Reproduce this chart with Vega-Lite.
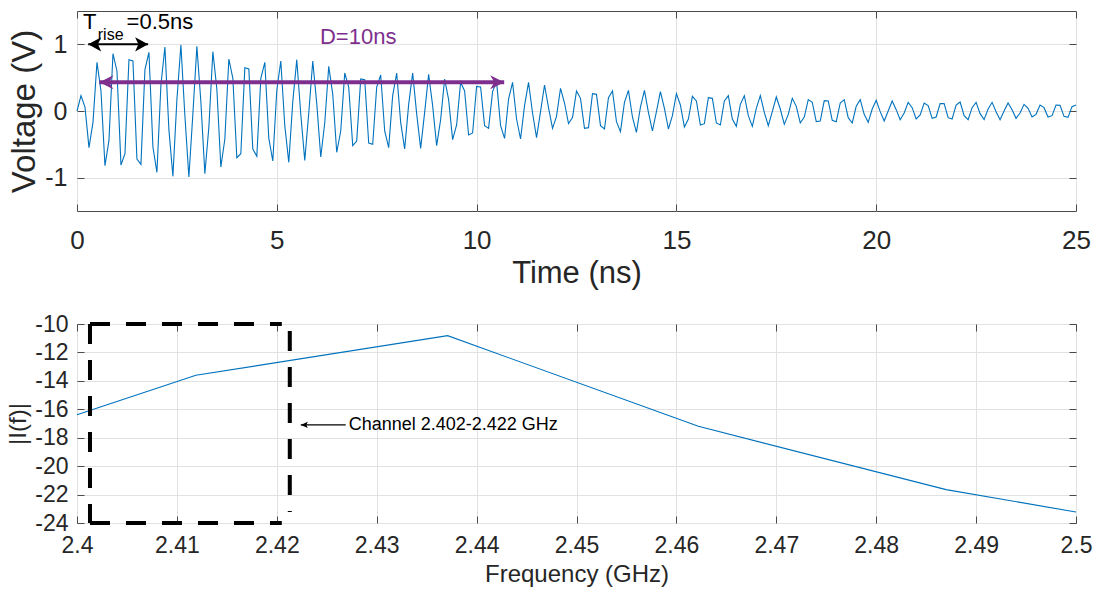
{
  "$schema": "https://vega.github.io/schema/vega-lite/v6.json",
  "padding": {"left": 6, "top": 10, "right": 5, "bottom": 2},
  "bounds": "flush",
  "spacing": 113,
  "config": {
    "font": "Liberation Sans",
    "view": {"stroke": "#4a4a4a", "strokeWidth": 1},
    "axis": {"domain": false, "ticks": true, "tickSize": -7, "tickColor": "#4a4a4a", "labelFlush": false, "grid": true, "gridColor": "#e2e2e2", "gridWidth": 1, "labelColor": "#262626", "titleColor": "#262626", "titleFontWeight": "normal", "labelFont": "Liberation Sans", "titleFont": "Liberation Sans"},
    "text": {"font": "Liberation Sans"}
  },
  "vconcat": [
    {
      "width": 999,
      "height": 200,
      "resolve": {"axis": {"x": "independent", "y": "independent"}},
      "layer": [
        {
          "encoding": {
            "x": {"field": "t", "type": "quantitative", "scale": {"domain": [0, 25], "nice": false, "zero": false}, "axis": {"values": [0, 5, 10, 15, 20, 25], "title": "Time (ns)", "labelFontSize": 26, "titleFontSize": 31, "labelPadding": 23, "titlePadding": 5}},
            "y": {"field": "v", "type": "quantitative", "scale": {"domain": [-1.5, 1.5], "nice": false, "zero": false}, "axis": {"values": [-1, 0, 1], "labelExpr": "replace(datum.label, '−', '-')", "title": "Voltage (V)", "labelFontSize": 25, "titleFontSize": 33, "labelPadding": 17, "titlePadding": 3}}
          },
          "layer": [
            {
              "data": {"values": [
{"t":0.0,"v":0},{"t":0.1,"v":0.23},{"t":0.2,"v":0.06},{"t":0.3,"v":-0.55},{"t":0.4,"v":-0.17},{"t":0.5,"v":0.73},{"t":0.6,"v":0.30},{"t":0.7,"v":-0.82},{"t":0.8,"v":-0.44},{"t":0.9,"v":0.86},
{"t":1.0,"v":0.60},{"t":1.1,"v":-0.81},{"t":1.2,"v":-0.64},{"t":1.3,"v":0.77},{"t":1.4,"v":0.75},{"t":1.5,"v":-0.72},{"t":1.6,"v":-0.80},{"t":1.7,"v":0.62},{"t":1.8,"v":0.88},{"t":1.9,"v":-0.54},
{"t":2.0,"v":-0.92},{"t":2.1,"v":0.39},{"t":2.2,"v":0.96},{"t":2.3,"v":-0.28},{"t":2.4,"v":-0.98},{"t":2.5,"v":0.17},{"t":2.6,"v":0.99},{"t":2.7,"v":-0.07},{"t":2.8,"v":-0.99},{"t":2.9,"v":-0.04},
{"t":3.0,"v":0.97},{"t":3.1,"v":0.14},{"t":3.2,"v":-0.94},{"t":3.3,"v":-0.24},{"t":3.4,"v":0.89},{"t":3.5,"v":0.33},{"t":3.6,"v":-0.84},{"t":3.7,"v":-0.42},{"t":3.8,"v":0.78},{"t":3.9,"v":0.49},
{"t":4.0,"v":-0.70},{"t":4.1,"v":-0.64},{"t":4.2,"v":0.65},{"t":4.3,"v":0.63},{"t":4.4,"v":-0.57},{"t":4.5,"v":-0.68},{"t":4.6,"v":0.49},{"t":4.7,"v":0.73},{"t":4.8,"v":-0.41},{"t":4.9,"v":-0.75},
{"t":5.0,"v":0.31},{"t":5.1,"v":0.75},{"t":5.2,"v":-0.22},{"t":5.3,"v":-0.77},{"t":5.4,"v":0.14},{"t":5.5,"v":0.77},{"t":5.6,"v":-0.05},{"t":5.7,"v":-0.74},{"t":5.8,"v":-0.03},{"t":5.9,"v":0.75},
{"t":6.0,"v":0.11},{"t":6.1,"v":-0.69},{"t":6.2,"v":-0.18},{"t":6.3,"v":0.67},{"t":6.4,"v":0.25},{"t":6.5,"v":-0.62},{"t":6.6,"v":-0.30},{"t":6.7,"v":0.57},{"t":6.8,"v":0.36},{"t":6.9,"v":-0.52},
{"t":7.0,"v":-0.45},{"t":7.1,"v":0.48},{"t":7.2,"v":0.47},{"t":7.3,"v":-0.48},{"t":7.4,"v":-0.50},{"t":7.5,"v":0.36},{"t":7.6,"v":0.54},{"t":7.7,"v":-0.30},{"t":7.8,"v":-0.55},{"t":7.9,"v":0.23},
{"t":8.0,"v":0.57},{"t":8.1,"v":-0.17},{"t":8.2,"v":-0.57},{"t":8.3,"v":0.10},{"t":8.4,"v":0.57},{"t":8.5,"v":-0.04},{"t":8.6,"v":-0.56},{"t":8.7,"v":-0.02},{"t":8.8,"v":0.55},{"t":8.9,"v":0.08},
{"t":9.0,"v":-0.52},{"t":9.1,"v":-0.13},{"t":9.2,"v":0.48},{"t":9.3,"v":0.17},{"t":9.4,"v":-0.43},{"t":9.5,"v":-0.21},{"t":9.6,"v":0.43},{"t":9.7,"v":0.30},{"t":9.8,"v":-0.36},{"t":9.9,"v":-0.33},
{"t":10.0,"v":0.37},{"t":10.1,"v":0.36},{"t":10.2,"v":-0.22},{"t":10.3,"v":-0.26},{"t":10.4,"v":0.29},{"t":10.5,"v":0.44},{"t":10.6,"v":-0.22},{"t":10.7,"v":-0.41},{"t":10.8,"v":0.18},{"t":10.9,"v":0.43},
{"t":11.0,"v":-0.12},{"t":11.1,"v":-0.42},{"t":11.2,"v":0.08},{"t":11.3,"v":0.43},{"t":11.4,"v":-0.03},{"t":11.5,"v":-0.40},{"t":11.6,"v":-0.01},{"t":11.7,"v":0.39},{"t":11.8,"v":0.05},{"t":11.9,"v":-0.26},
{"t":12.0,"v":-0.08},{"t":12.1,"v":0.34},{"t":12.2,"v":0.12},{"t":12.3,"v":-0.19},{"t":12.4,"v":-0.10},{"t":12.5,"v":0.30},{"t":12.6,"v":0.19},{"t":12.7,"v":-0.26},{"t":12.8,"v":-0.25},{"t":12.9,"v":0.26},
{"t":13.0,"v":0.25},{"t":13.1,"v":-0.22},{"t":13.2,"v":-0.27},{"t":13.3,"v":0.20},{"t":13.4,"v":0.30},{"t":13.5,"v":-0.16},{"t":13.6,"v":-0.31},{"t":13.7,"v":0.13},{"t":13.8,"v":0.31},{"t":13.9,"v":-0.09},
{"t":14.0,"v":-0.32},{"t":14.1,"v":0.06},{"t":14.2,"v":0.31},{"t":14.3,"v":-0.02},{"t":14.4,"v":-0.30},{"t":14.5,"v":-0.01},{"t":14.6,"v":0.29},{"t":14.7,"v":0.04},{"t":14.8,"v":-0.27},{"t":14.9,"v":-0.07},
{"t":15.0,"v":0.26},{"t":15.1,"v":0.09},{"t":15.2,"v":-0.24},{"t":15.3,"v":-0.12},{"t":15.4,"v":0.22},{"t":15.5,"v":0.15},{"t":15.6,"v":-0.21},{"t":15.7,"v":-0.19},{"t":15.8,"v":0.20},{"t":15.9,"v":0.19},
{"t":16.0,"v":-0.18},{"t":16.1,"v":-0.21},{"t":16.2,"v":0.15},{"t":16.3,"v":0.23},{"t":16.4,"v":-0.12},{"t":16.5,"v":-0.23},{"t":16.6,"v":0.10},{"t":16.7,"v":0.23},{"t":16.8,"v":-0.07},{"t":16.9,"v":-0.23},
{"t":17.0,"v":0.04},{"t":17.1,"v":0.23},{"t":17.2,"v":-0.02},{"t":17.3,"v":-0.22},{"t":17.4,"v":-0.01},{"t":17.5,"v":0.21},{"t":17.6,"v":0.03},{"t":17.7,"v":-0.20},{"t":17.8,"v":-0.05},{"t":17.9,"v":0.19},
{"t":18.0,"v":0.07},{"t":18.1,"v":-0.18},{"t":18.2,"v":-0.09},{"t":18.3,"v":0.17},{"t":18.4,"v":0.13},{"t":18.5,"v":-0.16},{"t":18.6,"v":-0.15},{"t":18.7,"v":0.155},{"t":18.8,"v":0.15},{"t":18.9,"v":-0.14},
{"t":19.0,"v":-0.16},{"t":19.1,"v":0.12},{"t":19.2,"v":0.17},{"t":19.3,"v":-0.10},{"t":19.4,"v":-0.18},{"t":19.5,"v":0.07},{"t":19.6,"v":0.17},{"t":19.7,"v":-0.05},{"t":19.8,"v":-0.17},{"t":19.9,"v":0.03},
{"t":20.0,"v":0.16},{"t":20.1,"v":-0.01},{"t":20.2,"v":-0.15},{"t":20.3,"v":0.0},{"t":20.4,"v":0.15},{"t":20.5,"v":0.02},{"t":20.6,"v":-0.13},{"t":20.7,"v":-0.03},{"t":20.8,"v":0.13},{"t":20.9,"v":0.05},
{"t":21.0,"v":-0.12},{"t":21.1,"v":-0.06},{"t":21.2,"v":0.12},{"t":21.3,"v":0.08},{"t":21.4,"v":-0.11},{"t":21.5,"v":-0.09},{"t":21.6,"v":0.11},{"t":21.7,"v":0.11},{"t":21.8,"v":-0.10},{"t":21.9,"v":-0.12},
{"t":22.0,"v":0.09},{"t":22.1,"v":0.135},{"t":22.2,"v":-0.07},{"t":22.3,"v":-0.13},{"t":22.4,"v":0.05},{"t":22.5,"v":0.13},{"t":22.6,"v":-0.04},{"t":22.7,"v":-0.13},{"t":22.8,"v":0.03},{"t":22.9,"v":0.13},
{"t":23.0,"v":-0.01},{"t":23.1,"v":-0.13},{"t":23.2,"v":0.0},{"t":23.3,"v":0.12},{"t":23.4,"v":0.02},{"t":23.5,"v":-0.11},{"t":23.6,"v":-0.03},{"t":23.7,"v":0.10},{"t":23.8,"v":0.04},{"t":23.9,"v":-0.09},
{"t":24.0,"v":-0.05},{"t":24.1,"v":0.09},{"t":24.2,"v":0.05},{"t":24.3,"v":-0.09},{"t":24.4,"v":-0.07},{"t":24.5,"v":0.09},{"t":24.6,"v":0.085},{"t":24.7,"v":-0.08},{"t":24.8,"v":-0.095},{"t":24.9,"v":0.065},
{"t":25.0,"v":0.09}
              ]},
              "mark": {"type": "line", "color": "#0072BD", "strokeWidth": 1.1}
            },
            {
              "data": {"values": [{"t": 0.56, "t2": 10.69, "v": 0.43}]},
              "mark": {"type": "rule", "color": "#7E2F8E", "strokeWidth": 4},
              "encoding": {"x2": {"field": "t2"}}
            },
            {
              "data": {"values": [{"t": 0.56, "v": 0.43}]},
              "mark": {"type": "point", "shape": "M0,0L1,-0.5L0.7,0L1,0.5Z", "filled": true, "color": "#7E2F8E", "size": 784, "opacity": 1, "strokeWidth": 0}
            },
            {
              "data": {"values": [{"t": 10.69, "v": 0.43}]},
              "mark": {"type": "point", "shape": "M0,0L-1,-0.5L-0.7,0L-1,0.5Z", "filled": true, "color": "#7E2F8E", "size": 784, "opacity": 1, "strokeWidth": 0}
            },
            {
              "data": {"values": [{"t": 0.28, "t2": 1.78, "v": 1.0}]},
              "mark": {"type": "rule", "color": "#000000", "strokeWidth": 2},
              "encoding": {"x2": {"field": "t2"}}
            },
            {
              "data": {"values": [{"t": 0.28, "v": 1.0}]},
              "mark": {"type": "point", "shape": "M0,0L1,-0.55L0.75,0L1,0.55Z", "filled": true, "color": "#000000", "size": 676, "opacity": 1, "strokeWidth": 0}
            },
            {
              "data": {"values": [{"t": 1.78, "v": 1.0}]},
              "mark": {"type": "point", "shape": "M0,0L-1,-0.55L-0.75,0L-1,0.55Z", "filled": true, "color": "#000000", "size": 676, "opacity": 1, "strokeWidth": 0}
            },
            {
              "data": {"values": [{"t": 0.15, "v": 1.233, "label": "T"}, {"t": 1.24, "v": 1.233, "label": "=0.5ns"}]},
              "mark": {"type": "text", "align": "left", "baseline": "alphabetic", "fontSize": 22, "color": "#000000"},
              "encoding": {"text": {"field": "label"}}
            },
            {
              "data": {"values": [{"t": 0.52, "v": 1.06, "label": "rise"}]},
              "mark": {"type": "text", "align": "left", "baseline": "alphabetic", "fontSize": 16, "color": "#000000"},
              "encoding": {"text": {"field": "label"}}
            },
            {
              "data": {"values": [{"t": 6.08, "v": 1.0, "label": "D=10ns"}]},
              "mark": {"type": "text", "align": "left", "baseline": "alphabetic", "fontSize": 22, "color": "#7E2F8E"},
              "encoding": {"text": {"field": "label"}}
            }
          ]
        },
        {
          "data": {"values": [{"t": 0, "v": 0}]},
          "mark": {"type": "point", "opacity": 0},
          "encoding": {
            "x": {"field": "t", "type": "quantitative", "axis": {"orient": "top", "values": [0, 5, 10, 15, 20, 25], "labels": false, "title": null, "grid": false}},
            "y": {"field": "v", "type": "quantitative", "axis": {"orient": "right", "values": [-1, 0, 1], "labels": false, "title": null, "grid": false}}
          }
        }
      ]
    },
    {
      "width": 999,
      "height": 199,
      "resolve": {"axis": {"x": "independent", "y": "independent"}},
      "layer": [
        {
          "encoding": {
            "x": {"field": "f", "type": "quantitative", "scale": {"domain": [2.4, 2.5], "nice": false, "zero": false}, "axis": {"values": [2.4, 2.41, 2.42, 2.43, 2.44, 2.45, 2.46, 2.47, 2.48, 2.49, 2.5], "format": "~g", "title": "Frequency (GHz)", "labelFontSize": 23, "titleFontSize": 24, "labelPadding": 18, "titlePadding": 5}},
            "y": {"field": "m", "type": "quantitative", "scale": {"domain": [-24, -10], "nice": false, "zero": false}, "axis": {"values": [-24, -22, -20, -18, -16, -14, -12, -10], "labelExpr": "replace(datum.label, '−', '-')", "title": "|I(f)|", "labelFontSize": 23, "titleFontSize": 24, "labelPadding": 16, "titlePadding": 4}}
          },
          "layer": [
            {
              "data": {"values": [
                {"f": 2.4, "m": -16.38},
                {"f": 2.4119, "m": -13.61},
                {"f": 2.4371, "m": -10.82},
                {"f": 2.4622, "m": -17.2},
                {"f": 2.487, "m": -21.65},
                {"f": 2.5, "m": -23.23}
              ]},
              "mark": {"type": "line", "color": "#0072BD", "strokeWidth": 1.1}
            },
            {
              "data": {"values": [
                {"f": 2.4013, "f2": 2.4013, "m": -10, "m2": -24},
                {"f": 2.4013, "f2": 2.4205, "m": -10, "m2": -10},
                {"f": 2.4013, "f2": 2.4205, "m": -24, "m2": -24},
                {"f": 2.4213, "f2": 2.4213, "m": -10.5, "m2": -23.23}
              ]},
              "mark": {"type": "rule", "color": "#000000", "strokeWidth": 4, "strokeDash": [20, 16]},
              "encoding": {"x2": {"field": "f2"}, "y2": {"field": "m2"}}
            },
            {
              "data": {"values": [{"f": 2.4224, "f2": 2.4269, "m": -17.1, "m2": -17.1}]},
              "mark": {"type": "rule", "color": "#000000", "strokeWidth": 1.2},
              "encoding": {"x2": {"field": "f2"}, "y2": {"field": "m2"}}
            },
            {
              "data": {"values": [{"f": 2.4224, "m": -17.1}]},
              "mark": {"type": "point", "shape": "M0,0L1,-0.45L0.8,0L1,0.45Z", "filled": true, "color": "#000000", "size": 196, "opacity": 1, "strokeWidth": 0}
            },
            {
              "data": {"values": [{"f": 2.4272, "m": -17.1, "label": "Channel 2.402-2.422 GHz"}]},
              "mark": {"type": "text", "align": "left", "baseline": "middle", "fontSize": 18, "color": "#000000"},
              "encoding": {"text": {"field": "label"}}
            }
          ]
        },
        {
          "data": {"values": [{"f": 2.45, "m": -17}]},
          "mark": {"type": "point", "opacity": 0},
          "encoding": {
            "x": {"field": "f", "type": "quantitative", "axis": {"orient": "top", "values": [2.4, 2.41, 2.42, 2.43, 2.44, 2.45, 2.46, 2.47, 2.48, 2.49, 2.5], "labels": false, "title": null, "grid": false}},
            "y": {"field": "m", "type": "quantitative", "axis": {"orient": "right", "values": [-24, -22, -20, -18, -16, -14, -12, -10], "labels": false, "title": null, "grid": false}}
          }
        }
      ]
    }
  ]
}
